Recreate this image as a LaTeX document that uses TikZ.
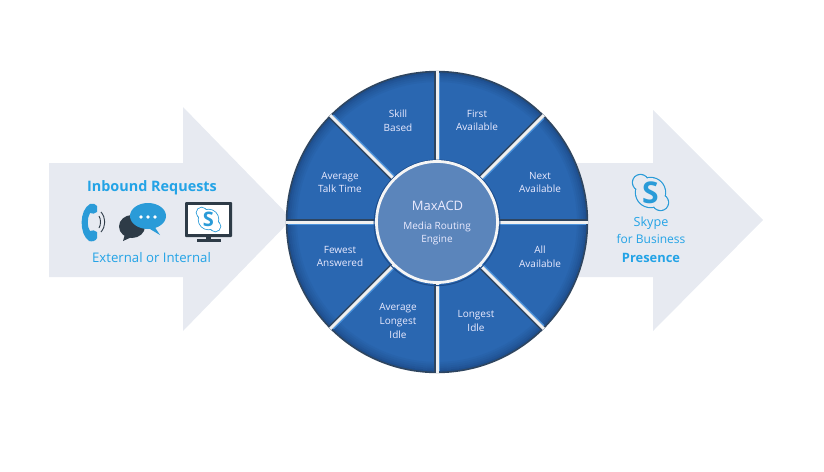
\documentclass[tikz,border=0pt]{standalone}
\usepackage{fontspec}
\setmainfont{Open Sans}
\usepackage{xcolor}
\definecolor{arrowgray}{HTML}{E7EAF1}
\definecolor{wheelblue}{HTML}{2A67B1}
\definecolor{wheeldark}{HTML}{1D4C8A}
\definecolor{rimdark}{HTML}{2E4560}
\definecolor{hubblue}{HTML}{5B85BB}
\definecolor{textblue}{HTML}{23A3E6}
\definecolor{iconblue}{HTML}{2A9BD8}
\definecolor{icondark}{HTML}{2E3B47}
\definecolor{spokelight}{HTML}{4C93DC}
\tikzset{
    wheeltext/.style={text=white!92!blue,font=\fontsize{10}{13.6}\selectfont,align=center},
    bluetext/.style={text=textblue,align=center},
}
\newcommand{\skypelogo}[5]{
    \begin{scope}[shift={(#1,#2)},scale=#3]
        \draw[iconblue,line width=#5*0.08pt] (0,0) circle (14.5) (-10,-10) circle (7.5) (10,10) circle (7.5);
        \fill[#4] (0,0) circle (14.5) (-10,-10) circle (7.5) (10,10) circle (7.5);
        \node[text=iconblue,font=\fontsize{#5}{#5}\selectfont\bfseries] at (0,0) {S};
    \end{scope}
}

\begin{document}
\begin{tikzpicture}[x=1pt,y=-1pt]
    \useasboundingbox (0,0) rectangle (824,471);
    \fill[arrowgray] (49,163) -- (183,163) -- (183,107) -- (292,219) -- (183,331) -- (183,277) -- (49,277) -- cycle;
    \fill[arrowgray] (570,163) -- (653,163) -- (653,110) -- (763,220) -- (653,331) -- (653,277) -- (570,277) -- cycle;

    \begin{scope}[shift={(437,222)},y=1pt]
        \fill[wheelblue] (0,0) circle (150);
        \foreach \rad/\tint in {141/15, 143/30, 145/45, 147/65, 149/90} {
            \draw[wheeldark!\tint!wheelblue,line width=2.2pt] (0,0) circle (\rad);
        }
        \draw[rimdark,line width=1.6pt] (0,0) circle (150.4);
        \foreach \ang/\dx/\dy/\lx/\ly in {90/-2.2/0/2.2/0, 270/-2.2/0/2.2/0, 0/0/2.2/0/-2.2, 180/0/2.2/0/-2.2, 45/-1.6/1.6/1.6/-1.6, 135/-1.6/-1.6/1.6/1.6, 225/-1.6/1.6/1.6/-1.6, 315/-1.6/-1.6/1.6/1.6} {
            \draw[spokelight,line width=1.3pt] (\lx,\ly) -- ++(\ang:149);
            \draw[rimdark,line width=1.8pt] (\dx,\dy) -- ++(\ang:150.5);
            \draw[white!88!gray,line width=3pt] (0,0) -- (\ang:151);
        }
        \fill[hubblue] (0,0) circle (61);
        \draw[wheeldark,line width=1pt] (0,-0.8) circle (62.8);
        \draw[white!92!gray,line width=2.8pt] (0,0) circle (60.5);
    \end{scope}

    \node[wheeltext] (skill) at (398,120.5) {Skill\\Based};
    \node[wheeltext] (first) at (477,120.5) {First\\Available};
    \node[wheeltext] (talk) at (340,182.5) {Average\\Talk Time};
    \node[wheeltext] (next) at (540,182.5) {Next\\Available};
    \node[wheeltext] (fewest) at (340,256.5) {Fewest\\Answered};
    \node[wheeltext] (all) at (540,256.5) {All\\Available};
    \node[wheeltext] (avglong) at (398,321) {Average\\Longest\\Idle};
    \node[wheeltext] (longest) at (476,321) {Longest\\Idle};
    \node[wheeltext,font=\fontsize{13}{15}\selectfont] (maxacd) at (437.5,205.5) {MaxACD};
    \node[wheeltext] (engine) at (437,233.5) {Media Routing\\Engine};

    \node[bluetext,font=\fontsize{14.4}{16}\selectfont\bfseries] (inbound) at (152,188) {Inbound Requests};
    \node[bluetext,font=\fontsize{13.2}{14}\selectfont] (external) at (151.5,257.5) {External or Internal};

    \fill[iconblue] (90,204) .. controls (93,203) and (96,204) .. (97,206) -- (97,212) .. controls (95,214) and (92,214) .. (90,213)
        .. controls (87,218) and (87,227) .. (90,231) .. controls (92,230) and (95,230) .. (97,232) -- (97,238)
        .. controls (96,241) and (92,242) .. (89,241) .. controls (79,234) and (79,210) .. (90,204) -- cycle;
    \draw[icondark,line width=0.9pt] (99,216) .. controls (101,219) and (101,225) .. (99,228);
    \draw[icondark,line width=0.9pt] (101,212) .. controls (106,218) and (106,226) .. (101,232);

    \fill[icondark] (132,226.5) ellipse (13 and 11.5);
    \fill[icondark] (125,234) -- (123,241) -- (134,236) -- cycle;
    \fill[iconblue] (148,216) ellipse (18 and 13);
    \fill[iconblue] (154,226) -- (160,235) -- (150,229) -- cycle;
    \foreach \dotx in {141,148,155} {
        \fill[white] (\dotx,217) circle (1.9);
    }

    \fill[icondark,rounded corners=1pt] (185,202) rectangle (232,237);
    \fill[white] (188,205) rectangle (229,234);
    \fill[icondark] (206,237) rectangle (211,240);
    \fill[icondark] (197,239) rectangle (221,241.5);
    \skypelogo{208.5}{219.5}{0.68}{white}{20}

    \skypelogo{650.5}{192.5}{1}{arrowgray}{30}
    \node[bluetext,font=\fontsize{12.6}{15}\selectfont] (skype) at (651,223.5) {Skype};
    \node[bluetext,font=\fontsize{12}{15}\selectfont] (business) at (651,238.5) {for Business};
    \node[bluetext,font=\fontsize{12.9}{14}\selectfont\bfseries] (presence) at (651,257.5) {Presence};
\end{tikzpicture}
\end{document}
